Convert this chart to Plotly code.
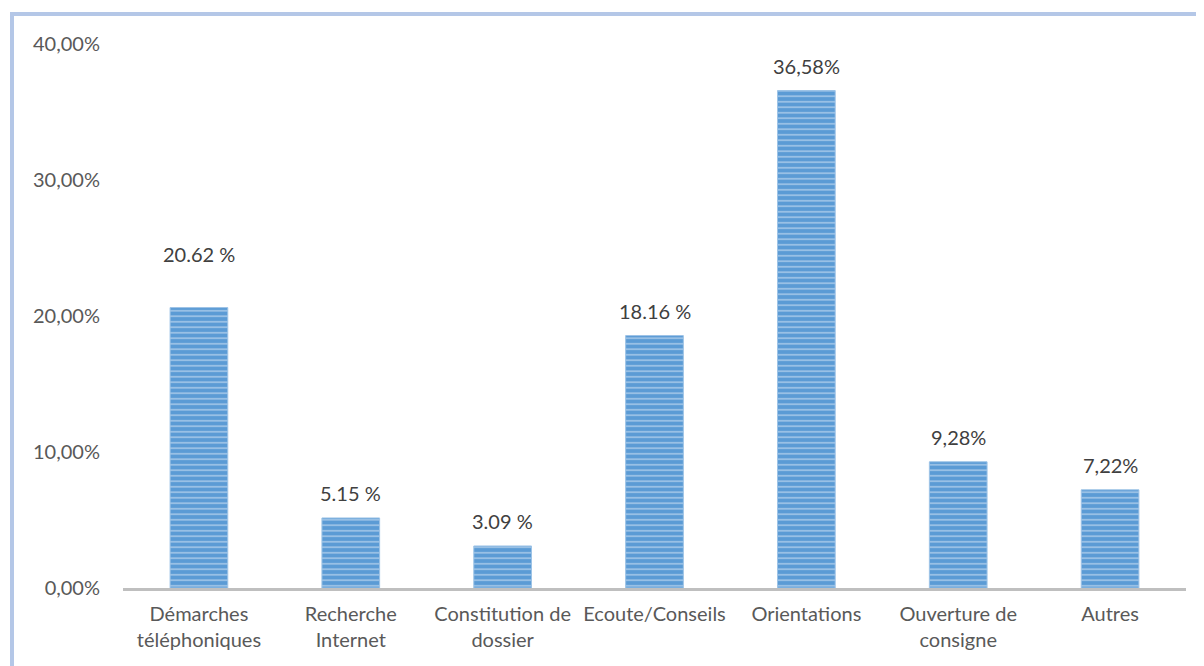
import plotly.graph_objects as go

categories = ["Démarches<br>téléphoniques", "Recherche<br>Internet", "Constitution de<br>dossier",
              "Ecoute/Conseils", "Orientations", "Ouverture de<br>consigne", "Autres"]
values = [20.62, 5.15, 3.09, 18.56, 36.58, 9.28, 7.22]
value_labels = ["20.62 %", "5.15 %", "3.09 %", "18.16 %", "36,58%", "9,28%", "7,22%"]
label_shift = [54, 25, 25, 25, 25, 25, 25]
tick_vals = [0, 10, 20, 30, 40]
tick_text = ["0,00%", "10,00%", "20,00%", "30,00%", "40,00%"]

FONT = "Lato"
TXT = "#595959"

fig = go.Figure()
fig.add_trace(go.Bar(
    x=categories, y=values, width=0.38,
    marker=dict(color="#5b9bd5",
                line=dict(color="#9dc3e6", width=1),
                pattern=dict(shape="-", bgcolor="#5b9bd5", fgcolor="#e3eefa",
                             size=5.5, solidity=0.3, fillmode="overlay")),
    hoverinfo="skip",
))

for c, v, t, s in zip(categories, values, value_labels, label_shift):
    fig.add_annotation(x=c, y=v, text=t, showarrow=False, yanchor="middle", yshift=s,
                       font=dict(family=FONT, size=20, color="#404040"))

fig.add_shape(type="rect", xref="paper", yref="paper",
              x0=(12 - 123) / 1063, x1=(1215 - 123) / 1063,
              y0=(588 - 680) / 544, y1=(588 - 14) / 544,
              line=dict(color="#b4c7e7", width=4), layer="below")

fig.update_layout(
    width=1196, height=658,
    margin=dict(l=115, r=18, t=36, b=78),
    paper_bgcolor="white", plot_bgcolor="white",
    showlegend=False,
    font=dict(family=FONT, size=20, color=TXT),
    bargap=0.62,
)
fig.update_xaxes(showline=True, linecolor="#bfbfbf", linewidth=2.5, ticks="",
                 ticklabelstandoff=6,
                 tickfont=dict(family=FONT, size=20, color=TXT), showgrid=False)
fig.update_yaxes(range=[0, 40], tickvals=tick_vals, ticktext=tick_text, showgrid=False,
                 zeroline=False, showline=False, ticks="", ticklabelstandoff=22,
                 tickfont=dict(family=FONT, size=20, color=TXT))

fig.write_html("out.html")
